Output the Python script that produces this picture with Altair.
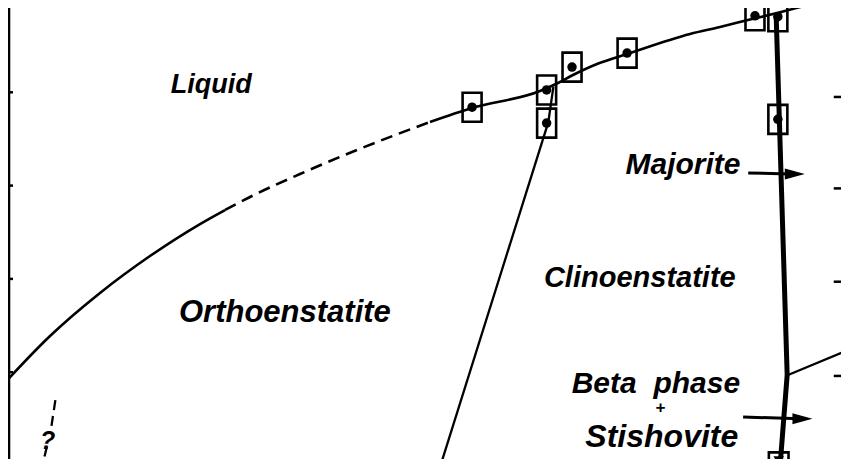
import altair as alt
import pandas as pd

# ---- data: P (pressure, GPa), T (temperature, deg C) ----
liq_lo_P = [9.976, 10.567, 11.157, 11.747, 12.338, 12.633]
liq_lo_T = [1883.1, 1938.8, 1984.9, 2024.5, 2058.8, 2073.8]
liq_dash_P = [12.633, 12.928, 13.518, 14.191, 15.053]
liq_dash_T = [2073.8, 2087.8, 2112.4, 2138.2, 2168.2]
liq_hi_P = [15.053, 15.549, 16.352, 16.564, 16.741, 17.025, 17.379, 18.123, 18.477, 18.831, 19.150, 19.740]
liq_hi_T = [2168.2, 2183.2, 2201.4, 2210.0, 2218.5, 2230.3, 2241.0, 2262.5, 2270.0, 2278.0, 2285.0, 2299.0]

oc_P = [15.16, 16.45, 16.51]
oc_T = [1795, 2168, 2206]

maj_P = [19.14, 19.27, 19.19, 19.17]
maj_T = [2282, 1897, 1804, 1798]

beta_P = [19.28, 20.0]
beta_T = [1897, 1924]

q1_P = [10.63, 10.58]
q1_T = [1870, 1840]
q2_P = [10.53, 10.47]
q2_T = [1820, 1798]

box_P = [15.55, 16.43, 16.73, 17.38, 18.89, 19.16, 19.16, 16.43]
box_T = [2184, 2202.5, 2227, 2242, 2282, 2281, 2171, 2167]

tri_box_P = [19.17]
tri_box_T = [1798]
tri_T = [1805]

arrow1_P = [18.81, 19.30]
arrow1_T = [2113.5, 2112.5]
arrow2_P = [18.75, 19.42]
arrow2_T = [1852, 1850]
head_P = [19.36, 19.45]
head_T = [2112.5, 1850]

left_axis_P = [10.083, 10.083]
left_axis_T = [1790, 2300]
left_tick_T = [1900, 2000, 2100, 2200]
left_tick_P = [10.083, 10.13]
right_tick_T = [1896, 1997, 2097, 2195, 2297]
right_tick_P = [19.82, 19.91]

labels = ["Liquid", "Orthoenstatite", "Clinoenstatite", "Majorite",
          "Beta\u00a0\u00a0phase", "+", "Stishovite", "?"]
label_P = [12.47, 13.34, 17.53, 18.04, 17.72, 17.77, 17.79, 10.54]
label_T = [2199, 1954, 1991, 2112, 1878, 1856, 1820, 1818]
label_size = [27, 31, 29, 30, 30, 17, 32, 25]

# ---- helpers to build tables ----
def seg(name, P, T):
    return pd.DataFrame({"P": P, "T": T, "seg": name, "o": list(range(len(P)))})

xs = alt.Scale(domain=[10.0708, 19.9055], nice=False, zero=False)
ys = alt.Scale(domain=[1806.97, 2290.35], nice=False, zero=False)
X = alt.X("P:Q", scale=xs, axis=None)
Y = alt.Y("T:Q", scale=ys, axis=None)

liq_solid = pd.concat([seg("liq_lo", liq_lo_P, liq_lo_T), seg("liq_hi", liq_hi_P, liq_hi_T)])
straight = pd.concat([seg("oc", oc_P, oc_T), seg("beta", beta_P, beta_T)])
liq_dash = seg("liq_dash", liq_dash_P, liq_dash_T)
q_dash = pd.concat([seg("q1", q1_P, q1_T), seg("q2", q2_P, q2_T)])
thick = seg("maj", maj_P, maj_T)
arrows = pd.concat([seg("a1", arrow1_P, arrow1_T), seg("a2", arrow2_P, arrow2_T)])
axis_line = seg("ax", left_axis_P, left_axis_T)

ticks = []
for i, t in enumerate(left_tick_T):
    ticks.append(seg(f"lt{i}", left_tick_P, [t, t]))
for i, t in enumerate(right_tick_T):
    ticks.append(seg(f"rt{i}", right_tick_P, [t, t]))
ticks = pd.concat(ticks)

boxes = pd.DataFrame({"P": box_P, "T": box_T})
tri_box = pd.DataFrame({"P": tri_box_P, "T": tri_box_T})
tri = pd.DataFrame({"P": tri_box_P, "T": tri_T})
heads = pd.DataFrame({"P": head_P, "T": head_T})
lab = pd.DataFrame({"P": label_P, "T": label_T, "text": labels, "size": label_size})

l_liq = alt.Chart(liq_solid).mark_line(color="black", strokeWidth=2.6, interpolate="monotone").encode(
    x=X, y=Y, detail="seg:N", order="o:Q"
)
l_liq_dash = alt.Chart(liq_dash).mark_line(color="black", strokeWidth=2.6, strokeDash=[12, 7],
                                           interpolate="monotone").encode(x=X, y=Y, order="o:Q")
l_straight = alt.Chart(straight).mark_line(color="black", strokeWidth=2.3).encode(
    x=X, y=Y, detail="seg:N", order="o:Q"
)
l_q = alt.Chart(q_dash).mark_line(color="black", strokeWidth=2.3, strokeDash=[10, 6]).encode(
    x=X, y=Y, detail="seg:N", order="o:Q"
)
l_thick = alt.Chart(thick).mark_line(color="black", strokeWidth=5).encode(x=X, y=Y, order="o:Q")
l_arrows = alt.Chart(arrows).mark_line(color="black", strokeWidth=3).encode(
    x=X, y=Y, detail="seg:N", order="o:Q"
)
l_axis = alt.Chart(axis_line).mark_line(color="black", strokeWidth=2.5).encode(x=X, y=Y, order="o:Q")
l_ticks = alt.Chart(ticks).mark_line(color="black", strokeWidth=2.5).encode(
    x=X, y=Y, detail="seg:N", order="o:Q"
)

box_path = "M-0.655,-1L0.655,-1L0.655,1L-0.655,1Z"
box_marks = alt.Chart(boxes).mark_point(
    shape=box_path, size=841, filled=False, stroke="black", strokeWidth=2.6, opacity=1
).encode(x=X, y=Y)
dot_marks = alt.Chart(boxes).mark_circle(size=90, color="black", opacity=1).encode(x=X, y=Y)
tri_box_mark = alt.Chart(tri_box).mark_point(
    shape=box_path, size=900, filled=False, stroke="black", strokeWidth=2.6, opacity=1
).encode(x=X, y=Y)
tri_mark = alt.Chart(tri).mark_point(shape="triangle-down", size=110, filled=True,
                                     color="black", opacity=1).encode(x=X, y=Y)
head_marks = alt.Chart(heads).mark_point(
    shape="M-1,-0.55L1,0L-1,0.55Z", size=400, filled=True, color="black", opacity=1
).encode(x=X, y=Y)

texts = alt.Chart(lab).mark_text(
    font="Liberation Sans", fontStyle="italic", fontWeight="bold", color="black",
    align="center", baseline="alphabetic"
).encode(x=X, y=Y, text="text:N", size=alt.Size("size:Q", scale=None, legend=None))

chart = alt.layer(
    l_axis, l_ticks, l_liq, l_liq_dash, l_straight, l_q, l_thick, l_arrows,
    box_marks, dot_marks, tri_box_mark, tri_mark, head_marks, texts
).properties(
    width=833, height=451, padding=0, autosize="none", background="white"
).configure_view(stroke=None)

chart.save("out.html", embed_options={"renderer": "svg", "actions": False})
